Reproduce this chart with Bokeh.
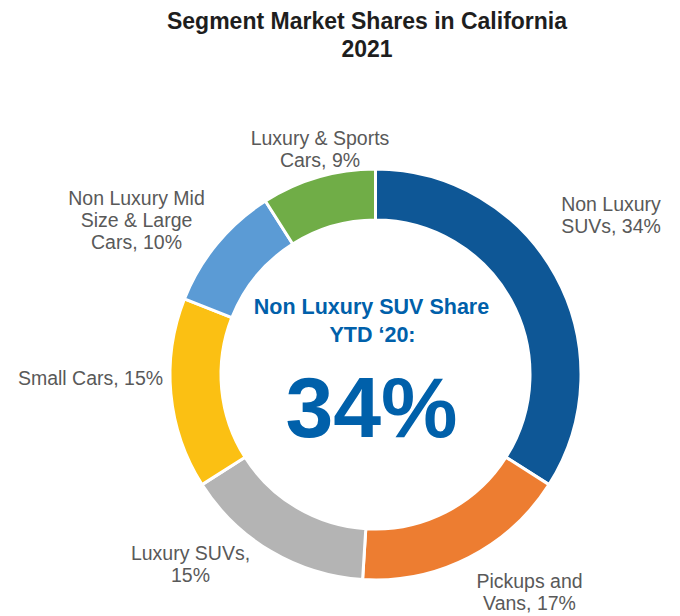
import math
from bokeh.plotting import figure
from bokeh.models import Range1d, ColumnDataSource
from bokeh.core.properties import value
from bokeh.embed import file_html
from bokeh.resources import INLINE

# ---- data ----
categories = ["Non Luxury SUVs", "Pickups and Vans", "Luxury SUVs", "Small Cars",
              "Non Luxury Mid Size & Large Cars", "Luxury & Sports Cars"]
shares = [34, 17, 15, 15, 10, 9]
colors = ["#0E5796", "#ED7D31", "#B4B4B4", "#FBC013", "#5B9BD5", "#70AD47"]
label_lines = [["Non Luxury", "SUVs, 34%"],
               ["Pickups and", "Vans, 17%"],
               ["Luxury SUVs,", "15%"],
               ["Small Cars, 15%"],
               ["Non Luxury Mid", "Size & Large", "Cars, 10%"],
               ["Luxury & Sports", "Cars, 9%"]]
title_lines = ["Segment Market Shares in California", "2021"]
center_lines = ["Non Luxury SUV Share", "YTD \u201820:"]
center_value = "34%"

# ---- layout (pixel-like data units) ----
W, H = 680, 616
cx, cy = 375, 242
r_out, r_in = 205.5, 154.5
lab_fs = 19.5
adj = 0.41  # baseline compensation (fraction of font size)
label_pos = [(610.5, 405), (529, 28), (190, 56), (90, 231), (136, 411), (319.5, 471)]
line_gap = 22

p = figure(width=W, height=H, output_backend="svg", toolbar_location=None,
           x_range=Range1d(0, W), y_range=Range1d(0, H), min_border=0)
p.axis.visible = False
p.grid.visible = False
p.outline_line_color = None
p.background_fill_color = "white"

total = sum(shares)
starts, ends = [], []
cum = 0
for v in shares:
    c0 = cum / total
    cum += v
    c1 = cum / total
    starts.append(math.pi / 2 - 2 * math.pi * c1)
    ends.append(math.pi / 2 - 2 * math.pi * c0)

src = ColumnDataSource(dict(x=[cx] * len(shares), y=[cy] * len(shares),
                            start=starts, end=ends, color=colors, cat=categories))
p.annular_wedge(x="x", y="y", inner_radius=r_in, outer_radius=r_out,
                start_angle="start", end_angle="end", direction="anticlock",
                fill_color="color", line_color="white", line_width=3, source=src)

# labels
lx, ly, lt = [], [], []
for (x0, y0), lines in zip(label_pos, label_lines):
    for i, t in enumerate(lines):
        lx.append(x0)
        ly.append(y0 - i * line_gap + adj * lab_fs)
        lt.append(t)
p.text(x=lx, y=ly, text=lt, text_align="center", text_baseline="alphabetic",
       text_font=value("Liberation Sans"), text_font_size=f"{lab_fs}px", text_color="#595959")

# title
t_fs = 23
p.text(x=[366.5, 366.5], y=[586 + adj * t_fs, 559 + adj * t_fs], text=title_lines,
       text_align="center", text_baseline="alphabetic", text_font=value("Liberation Sans"),
       text_font_size=f"{t_fs}px", text_font_style="bold", text_color="#1E1E1E")

# center text
c_fs = 21.5
p.text(x=[371, 372], y=[301 + adj * c_fs, 273 + adj * c_fs], text=center_lines,
       text_align="center", text_baseline="alphabetic", text_font=value("Liberation Sans"),
       text_font_size=f"{c_fs}px", text_font_style="bold", text_color="#0060AA")
v_fs = 86
p.text(x=[371], y=[174 + adj * v_fs], text=[center_value], text_align="center",
       text_baseline="alphabetic", text_font=value("Liberation Sans"),
       text_font_size=f"{v_fs}px", text_font_style="bold", text_color="#0060AA")

open("out.html", "w").write(file_html(p, INLINE))
